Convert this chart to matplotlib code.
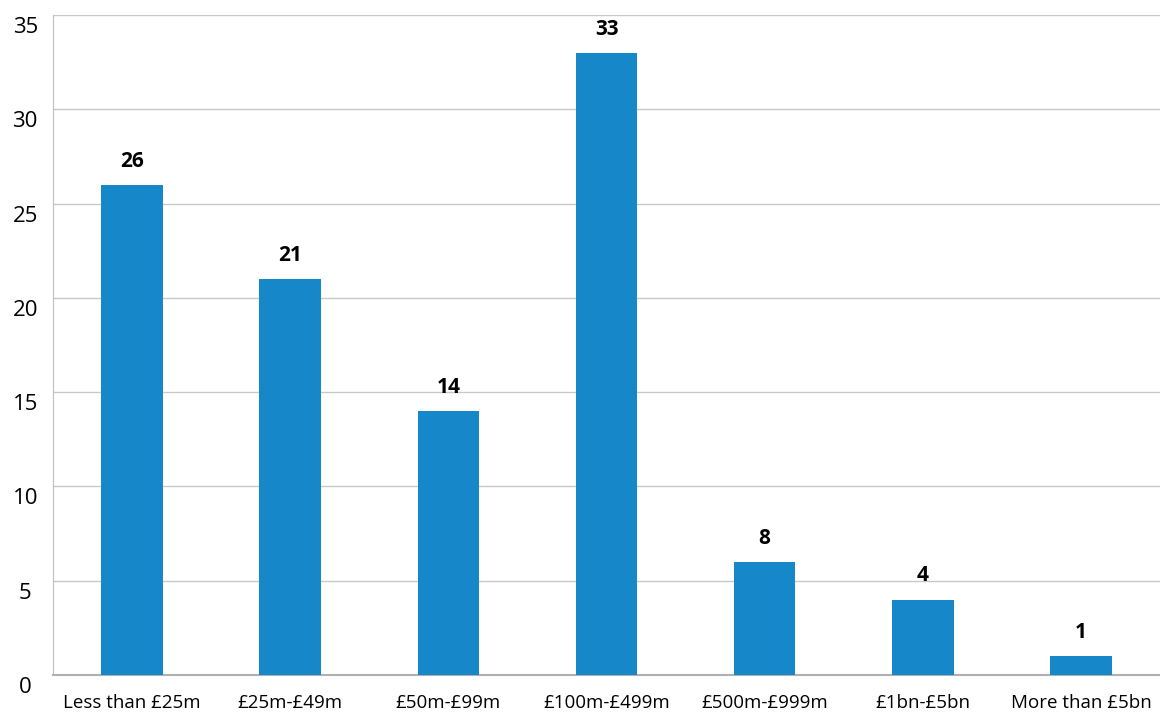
import numpy as np
import matplotlib.pyplot as plt
from matplotlib.transforms import ScaledTranslation

plt.rcParams['font.family'] = ['Open Sans', 'DejaVu Sans']

# Data
categories = ['Less than £25m', '£25m-£49m', '£50m-£99m', '£100m-£499m',
              '£500m-£999m', '£1bn-£5bn', 'More than £5bn']
bar_heights = [26, 21, 14, 33, 6, 4, 1]
bar_labels = ['26', '21', '14', '33', '8', '4', '1']
yticks = [0, 5, 10, 15, 20, 25, 30, 35]

fig = plt.figure(figsize=(11.6, 7.17), dpi=100)
ax = fig.add_axes([53/1160, 42/717, 1 - 53/1160, 660/717])

x = np.arange(len(categories))
bars = ax.bar(x, bar_heights, width=0.39, color='#1688ca', zorder=3)
for b, lab in zip(bars, bar_labels):
    ax.text(b.get_x() + b.get_width()/2, b.get_height() + 0.7, lab,
            ha='center', va='bottom', fontsize=15, fontweight='bold', color='black')

ax.set_xlim(-0.5, len(categories) - 0.5)
ax.set_ylim(0, 35)
ax.set_yticks(yticks)
ax.set_xticks(x)
ax.set_xticklabels(categories, fontsize=13.5)
ax.tick_params(axis='y', labelsize=16, length=0, pad=20)
ax.tick_params(axis='x', length=0, pad=14)
# y labels sit a little below their gridlines in the original
shift = ScaledTranslation(0, -10/100, fig.dpi_scale_trans)
for t in ax.get_yticklabels():
    t.set_horizontalalignment('center')
    t.set_transform(t.get_transform() + shift)

ax.grid(axis='y', color='#c8c8c8', linewidth=1, zorder=0)
for s in ['top', 'right']:
    ax.spines[s].set_visible(False)
ax.spines['left'].set_color('#c0c0c0')
ax.spines['bottom'].set_color('#b0b0b0')
ax.spines['bottom'].set_linewidth(1.5)

fig.savefig('out.png', dpi=100)
